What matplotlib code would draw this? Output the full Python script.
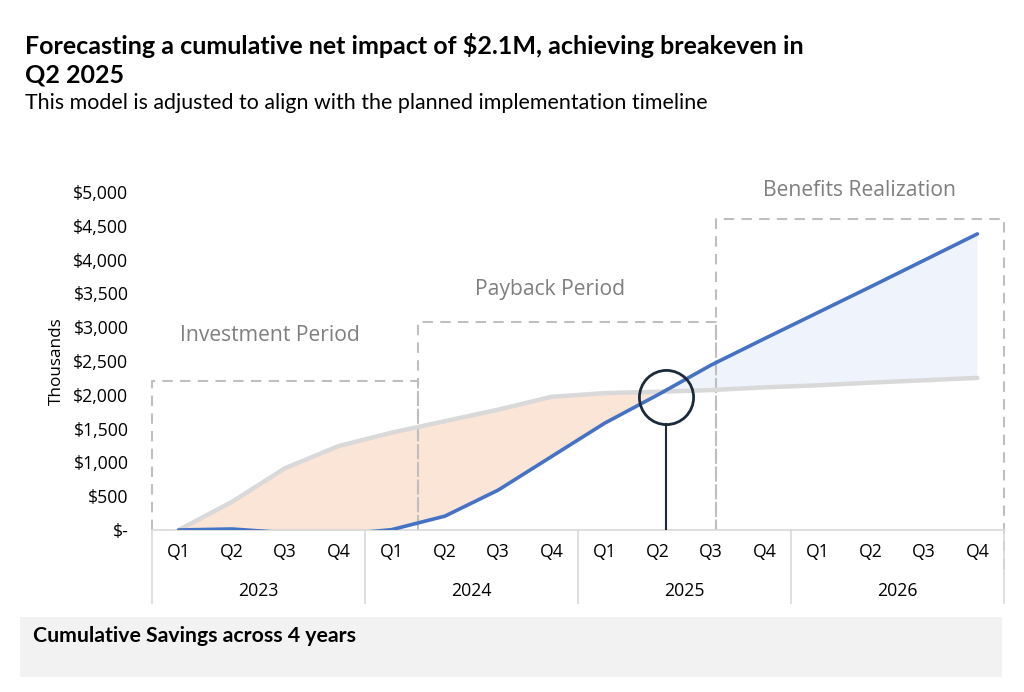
import matplotlib
matplotlib.use("Agg")
import matplotlib.pyplot as plt
import matplotlib.transforms as mtransforms
from matplotlib.patches import Rectangle
import numpy as np

# ---------------- data ----------------
years = ["2023", "2024", "2025", "2026"]
quarters = ["Q1", "Q2", "Q3", "Q4"]
cost_cumulative = [0, 415, 915, 1240, 1440, 1610, 1780, 1970,
                   2025, 2045, 2070, 2110, 2140, 2180, 2215, 2250]
savings_cumulative = [0, 15, -40, -70, 5, 205, 590, 1085,
                      1580, 2000, 2440, 2830, 3215, 3600, 3990, 4380]
yticks = [0, 500, 1000, 1500, 2000, 2500, 3000, 3500, 4000, 4500, 5000]
ytick_labels = ["$-", "$500", "$1,000", "$1,500", "$2,000", "$2,500",
                "$3,000", "$3,500", "$4,000", "$4,500", "$5,000"]
# phase boxes: (label, x start, x end, top value)
phases = [("Investment Period", -0.5, 4.5, 2200),
          ("Payback Period", 4.5, 10.1, 3080),
          ("Benefits Realization", 10.1, 15.5, 4600)]
breakeven_x = 9.15
breakeven_y = 1970
subtitle = "This model is adjusted to align with the planned implementation timeline"
footer = "Cumulative Savings across 4 years"

# ---------------- style ----------------
W, H = 1024, 692
fig = plt.figure(figsize=(W / 100, H / 100), dpi=100)
plt.rcParams['font.family'] = ['Open Sans', 'DejaVu Sans']

def fx(px): return px / W
def fy(py): return 1 - py / H

ax = fig.add_axes([fx(152), fy(530), fx(1004) - fx(152), fy(192) - fy(530)])
n = len(cost_cumulative)
x = np.arange(n)
ax.set_xlim(-0.5, n - 0.5)
ax.set_ylim(0, 5000)

gray = "#d9d9d9"
blue = "#4472c4"
c = np.array(cost_cumulative, float)
s = np.array(savings_cumulative, float)
ax.fill_between(x, c, s, where=c >= s, interpolate=True, color="#fbe5d6", lw=0, zorder=1)
ax.fill_between(x, c, s, where=s >= c, interpolate=True, color="#eff3fb", lw=0, zorder=1)
ax.plot(x, c, color=gray, lw=3.2, solid_capstyle="round", zorder=3)
ax.plot(x, s, color=blue, lw=2.6, solid_capstyle="round", zorder=4)

# phase boxes
dash_col = "#bfbfbf"
label_dx = [-0.28, -0.33, -0.02]
label_dy = [675, 485, 415]
for i, (lab, x0, x1, top) in enumerate(phases):
    ybot = -660 if i == len(phases) - 1 else 0
    ax.plot([x0, x0, x1, x1], [0, top, top, ybot], color=dash_col, lw=1.5,
            ls=(0, (5, 3.5)), clip_on=False, zorder=2)
    ax.text((x0 + x1) / 2 + label_dx[i], top + label_dy[i],
            lab, ha="center", va="center", fontsize=15.2, color="#7f7f7f", clip_on=False)

# breakeven marker
ax.plot([breakeven_x], [breakeven_y], marker="o", ms=39, mfc="none", mec="#1b2a3a",
        mew=2.0, zorder=6, clip_on=False)
ax.plot([breakeven_x, breakeven_x], [0, 1570], color="#1b2a3a", lw=1.5, zorder=6)

# axes styling
for sp in ["top", "right", "left"]:
    ax.spines[sp].set_visible(False)
ax.spines["bottom"].set_color(gray)
ax.spines["bottom"].set_linewidth(1.2)
ax.set_yticks(yticks)
ax.set_yticklabels(ytick_labels, fontsize=12.7, color="#000000")
ax.tick_params(axis="y", length=0, pad=17)
ax.set_xticks([])
ax.set_ylabel("Thousands", fontsize=12.3, labelpad=6)

# two-level category axis
trans = mtransforms.blended_transform_factory(ax.transData, ax.transAxes)
ax_h = 530 - 192
for i in range(n):
    ax.text(i, -22 / ax_h, quarters[i % 4], transform=trans, ha="center", va="center",
            fontsize=12.7)
for j, yr in enumerate(years):
    ax.text(j * 4 + 1.5, -61 / ax_h, yr, transform=trans, ha="center", va="center",
            fontsize=12.7)
for j in range(len(years) + 1):
    ax.plot([j * 4 - 0.5] * 2, [0, -73 / ax_h], transform=trans, color=gray, lw=1.2,
            clip_on=False)

# titles
tf = ["Lato", "DejaVu Sans"]
fig.text(fx(25), fy(45), "Forecasting a cumulative net impact of $2.1M, achieving breakeven in",
         fontsize=18, fontweight="bold", family=tf, va="center")
fig.text(fx(25), fy(75), "Q2 2025", fontsize=18, fontweight="bold", family=tf, va="center")
fig.text(fx(25), fy(103), subtitle, fontsize=15.4, family=tf, va="center")

# footer box
fig.patches.append(Rectangle((fx(20), fy(677)), fx(1002) - fx(20), fy(617) - fy(677),
                             transform=fig.transFigure, facecolor="#f2f2f2", edgecolor="none"))
fig.text(fx(33), fy(636), footer, fontsize=15.3, fontweight="bold", family=tf, va="center")

fig.savefig("out.png", dpi=100)
